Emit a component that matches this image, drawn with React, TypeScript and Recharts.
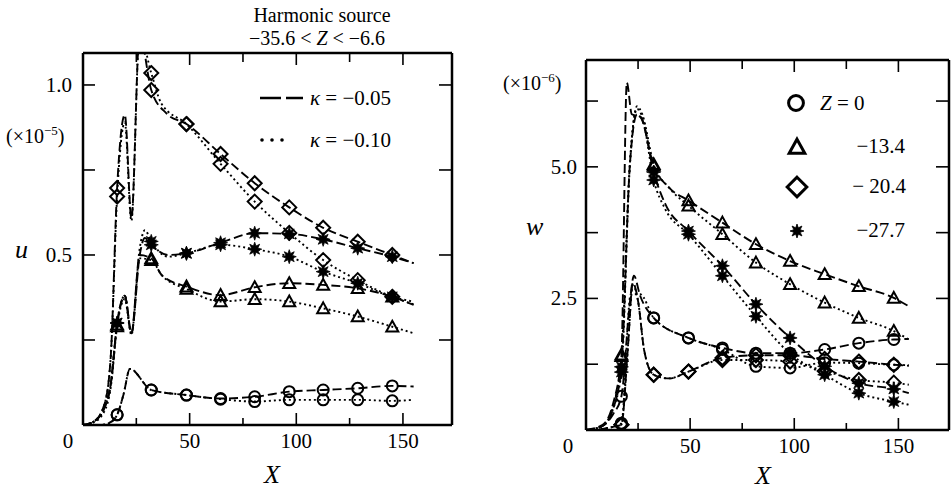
import React from 'react';
import { ComposedChart, Line, XAxis, YAxis } from 'recharts';

type P = [number, number];

// ---------- Left panel: u (x10^-5) ----------
const uMarkX = [16, 32, 48.5, 64.5, 80.5, 96.7, 112.6, 128.8, 145];
const uCircDash: P[] = [[0, 0], [8, 0], [12, 0.005], [16, 0.03], [19, 0.09], [22, 0.165], [32, 0.103], [48.5, 0.088], [64.5, 0.078], [80.5, 0.083], [96.7, 0.098], [112.6, 0.103], [128.8, 0.108], [145, 0.115], [155, 0.113]];
const uCircDot: P[] = [[0, 0], [8, 0], [12, 0.005], [16, 0.03], [19, 0.09], [22, 0.165], [32, 0.103], [48.5, 0.088], [64.5, 0.076], [80.5, 0.069], [96.7, 0.074], [112.6, 0.074], [128.8, 0.074], [145, 0.071], [155, 0.074]];
const uTriDash: P[] = [[0, 0], [5, 0.01], [10, 0.05], [13, 0.12], [16, 0.295], [19.6, 0.38], [22.7, 0.27], [26.6, 0.5], [32, 0.49], [37, 0.44], [48.5, 0.407], [64.5, 0.382], [80.5, 0.405], [96.7, 0.417], [112.6, 0.412], [128.8, 0.402], [145, 0.377], [155, 0.353]];
const uTriDot: P[] = [[0, 0], [5, 0.008], [10, 0.04], [13, 0.11], [16, 0.29], [19.6, 0.37], [22.7, 0.265], [26.6, 0.49], [32, 0.485], [37, 0.44], [48.5, 0.4], [64.5, 0.363], [80.5, 0.37], [96.7, 0.363], [112.6, 0.343], [128.8, 0.319], [145, 0.289], [155, 0.27]];
const uStarDash: P[] = [[0, 0], [5, 0.01], [10, 0.05], [13, 0.12], [16, 0.3], [19.6, 0.38], [22.7, 0.27], [26.6, 0.5], [29, 0.55], [32, 0.53], [40, 0.5], [48.5, 0.505], [64.5, 0.536], [80.5, 0.564], [96.7, 0.562], [112.6, 0.546], [128.8, 0.52], [145, 0.495], [155, 0.476]];
const uStarDot: P[] = [[0, 0], [5, 0.01], [10, 0.05], [13, 0.12], [16, 0.3], [19.6, 0.38], [22.7, 0.27], [26.6, 0.52], [29, 0.573], [32, 0.54], [40, 0.495], [48.5, 0.505], [64.5, 0.53], [80.5, 0.517], [96.7, 0.495], [112.6, 0.451], [128.8, 0.417], [145, 0.377], [155, 0.363]];
const uDiaDash: P[] = [[0, 0], [5, 0.01], [10, 0.06], [13, 0.2], [16, 0.697], [19.6, 0.912], [22.7, 0.608], [26.5, 1.15], [32, 0.985], [39, 0.917], [48.5, 0.885], [64.5, 0.797], [80.5, 0.711], [96.7, 0.64], [112.6, 0.58], [128.8, 0.539], [145, 0.5], [155, 0.476]];
const uDiaDot: P[] = [[0, 0], [5, 0.01], [10, 0.06], [13, 0.2], [16, 0.672], [19.6, 0.89], [22.7, 0.6], [26.5, 1.15], [32, 1.035], [36.7, 0.946], [48.5, 0.885], [64.5, 0.768], [80.5, 0.657], [96.7, 0.565], [112.6, 0.485], [128.8, 0.426], [145, 0.377], [155, 0.355]];

// ---------- Right panel: w (x10^-6) ----------
const wMarkX = [17, 32.5, 49.2, 65.5, 81.6, 98, 114.6, 131, 147.8];
const wCircDash: P[] = [[0, 0], [8, 0.08], [13, 0.3], [17, 0.64], [21, 2.4], [23, 2.93], [26, 2.55], [32.5, 2.13], [49.2, 1.75], [65.5, 1.56], [81.6, 1.46], [98, 1.46], [114.6, 1.53], [131, 1.65], [147.8, 1.72], [155, 1.73]];
const wCircDot: P[] = [[0, 0], [8, 0.02], [13, 0.06], [17, 0.13], [21.5, 2.58], [26, 2.58], [32.5, 2.13], [49.2, 1.75], [65.5, 1.53], [81.6, 1.21], [98, 1.18], [114.6, 1.28], [131, 1.27], [147.8, 1.24], [155, 1.23]];
const wTriDash: P[] = [[0, 0], [8, 0.1], [13, 0.5], [17, 1.43], [19.6, 6.6], [22, 6.0], [26, 5.95], [32.5, 5.02], [40, 4.6], [49.2, 4.36], [65.5, 3.94], [81.6, 3.53], [98, 3.21], [114.6, 2.96], [131, 2.73], [147.8, 2.51], [155, 2.35]];
const wTriDot: P[] = [[0, 0], [8, 0.08], [13, 0.45], [17, 1.4], [21, 5.0], [24.5, 6.15], [27, 6.0], [32.5, 5.05], [40, 4.6], [49.2, 4.26], [65.5, 3.72], [81.6, 3.18], [98, 2.77], [114.6, 2.42], [131, 2.13], [147.8, 1.88], [155, 1.72]];
const wDiaDash: P[] = [[0, 0], [8, 0.02], [13, 0.06], [17, 0.1], [20, 1.5], [22.5, 2.8], [25, 2.45], [28, 1.5], [32.5, 1.05], [40, 0.98], [49.2, 1.11], [65.5, 1.37], [81.6, 1.42], [98, 1.42], [114.6, 1.35], [131, 1.3], [147.8, 1.24], [155, 1.22]];
const wDiaDot: P[] = [[0, 0], [8, 0.02], [13, 0.06], [17, 0.1], [20, 1.5], [22.5, 2.75], [25, 2.45], [28, 1.5], [32.5, 1.05], [40, 0.98], [49.2, 1.11], [65.5, 1.33], [81.6, 1.33], [98, 1.3], [114.6, 1.12], [131, 0.95], [147.8, 0.9], [155, 0.86]];
const wStarDash: P[] = [[0, 0], [8, 0.08], [13, 0.4], [17, 1.2], [21, 5.0], [24.5, 6.0], [27, 5.9], [32.5, 4.9], [38, 4.3], [49.2, 3.78], [65.5, 3.12], [81.6, 2.39], [98, 1.75], [114.6, 1.21], [131, 0.89], [147.8, 0.78], [155, 0.7]];
const wStarDot: P[] = [[0, 0], [8, 0.08], [13, 0.4], [17, 1.1], [21, 5.0], [24.5, 6.1], [27, 5.95], [32.5, 4.75], [38, 4.2], [49.2, 3.72], [65.5, 2.93], [81.6, 2.16], [98, 1.45], [114.6, 1.05], [131, 0.7], [147.8, 0.54], [155, 0.48]];

const xTicks = [0, 25, 50, 75, 100, 125, 150];
const uTicks = [0, 0.25, 0.5, 0.75, 1.0];
const wTicks = [0, 1.25, 2.5, 3.75, 5.0, 6.25];
const uLabelTicks = [0.5, 1.0];
const wLabelTicks = [2.5, 5.0];

const SERIF = '"Liberation Serif", "DejaVu Serif", serif';
const K = '#000';

type Kind = 'circle' | 'tri' | 'dia' | 'star';

const Marker = ({ kind, cx, cy, s = 1, sw = 2 }: { kind: Kind; cx: number; cy: number; s?: number; sw?: number }) => {
  if (kind === 'circle') return <circle cx={cx} cy={cy} r={5.5 * s} fill="none" stroke={K} strokeWidth={sw} />;
  if (kind === 'tri') {
    const pts = `${cx},${cy - 6 * s} ${cx + 6 * s},${cy + 4.8 * s} ${cx - 6 * s},${cy + 4.8 * s}`;
    return <polygon points={pts} fill="none" stroke={K} strokeWidth={sw} strokeLinejoin="miter" />;
  }
  if (kind === 'dia') {
    const pts = `${cx},${cy - 7 * s} ${cx + 7 * s},${cy} ${cx},${cy + 7 * s} ${cx - 7 * s},${cy}`;
    return <polygon points={pts} fill="none" stroke={K} strokeWidth={sw} />;
  }
  const pts: string[] = [];
  for (let i = 0; i < 16; i++) {
    const r = (i % 2 === 0 ? 7 : 3.4) * s;
    const a = (Math.PI * i) / 8 - Math.PI / 2;
    pts.push(`${cx + r * Math.cos(a)},${cy + r * Math.sin(a)}`);
  }
  return <polygon points={pts.join(' ')} fill={K} stroke={K} strokeWidth={0.8} />;
};

const rows = (pts: P[]) => pts.map(([x, y]) => ({ x, y }));

const makeDot = (kind: Kind, marks: number[]) => (props: any) => {
  const { cx, cy, payload, index } = props;
  if (!payload || !marks.includes(payload.x) || cx == null || cy == null) return <g key={`d${index}`} />;
  return <g key={`d${index}`}><Marker kind={kind} cx={cx} cy={cy} /></g>;
};

const DASH = '9 4';
const DOT = '2 3';

const mkTicks = (zeroDx: number) => ({
  bottom: (p: any) => {
    const { x, y, payload } = p;
    const v = payload.value;
    const major = v % 50 === 0;
    return (
      <g>
        {v > 0 && <line x1={x} x2={x} y1={y} y2={y - (major ? 12 : 7)} stroke={K} strokeWidth={1.6} />}
        {v > 0 && major && (
          <text x={x} y={y + 23} textAnchor="middle" fontFamily={SERIF} fontSize={21} fill={K}>{v}</text>
        )}
        {v === 0 && (
          <text x={x + zeroDx} y={y + 23} textAnchor="middle" fontFamily={SERIF} fontSize={21} fill={K}>0</text>
        )}
      </g>
    );
  },
  top: (p: any) => {
    const { x, y, payload } = p;
    const v = payload.value;
    if (v <= 0) return <g />;
    const major = v % 50 === 0;
    return <line x1={x} x2={x} y1={y} y2={y + (major ? 12 : 9)} stroke={K} strokeWidth={1.6} />;
  },
});

const leftTick = (labels: number[], dx: number) => (p: any) => {
  const { x, y, payload } = p;
  const v = payload.value;
  if (v <= 0) return <g />;
  return (
    <g>
      <line x1={x} x2={x + 12} y1={y} y2={y} stroke={K} strokeWidth={1.6} />
      {labels.includes(v) && (
        <text x={x - dx} y={y + 7} textAnchor="end" fontFamily={SERIF} fontSize={21} fill={K}>{v.toFixed(1)}</text>
      )}
    </g>
  );
};

const rightTick = (p: any) => {
  const { x, y, payload } = p;
  const v = payload.value;
  if (v <= 0) return <g />;
  return <line x1={x} x2={x - 13} y1={y} y2={y} stroke={K} strokeWidth={1.6} />;
};

const axisLine = { stroke: K, strokeWidth: 2.5 };

type SeriesDef = { data: P[]; kind: Kind; dash: string };

const Panel = ({
  width, height, plotLeft, plotRight, plotTop, plotBottom, xMax, yMax, yTicks, yLabels, marks, series, zeroDx, yLabelDx,
}: {
  width: number; height: number; plotLeft: number; plotRight: number; plotTop: number; plotBottom: number;
  xMax: number; yMax: number; yTicks: number[]; yLabels: number[]; marks: number[]; series: SeriesDef[]; zeroDx: number; yLabelDx: number;
}) => {
  const t = mkTicks(zeroDx);
  return (
    <ComposedChart width={width} height={height} margin={{ top: 0, right: 0, bottom: 0, left: 0 }}>
      <XAxis xAxisId="b" orientation="bottom" type="number" dataKey="x" domain={[0, xMax]} ticks={xTicks} interval={0}
        height={height - plotBottom} tickSize={0} tickMargin={0} tickLine={false} axisLine={axisLine} tick={t.bottom} allowDataOverflow />
      <XAxis xAxisId="t" orientation="top" type="number" dataKey="x" domain={[0, xMax]} ticks={xTicks} interval={0}
        height={plotTop} tickSize={0} tickMargin={0} tickLine={false} axisLine={axisLine} tick={t.top} allowDataOverflow />
      <YAxis yAxisId="l" orientation="left" type="number" domain={[0, yMax]} ticks={yTicks} interval={0}
        width={plotLeft} tickSize={0} tickMargin={0} tickLine={false} axisLine={axisLine} tick={leftTick(yLabels, yLabelDx)} allowDataOverflow />
      <YAxis yAxisId="r" orientation="right" type="number" domain={[0, yMax]} ticks={yTicks} interval={0}
        width={width - plotRight} tickSize={0} tickMargin={0} tickLine={false} axisLine={axisLine} tick={rightTick} allowDataOverflow />
      {series.map((s, i) => (
        <Line key={i} xAxisId="b" yAxisId="l" data={rows(s.data)} dataKey="y" type="monotone" stroke={K}
          strokeWidth={1.9} strokeDasharray={s.dash} dot={makeDot(s.kind, marks)} activeDot={false}
          isAnimationActive={false} />
      ))}
    </ComposedChart>
  );
};

const leftSeries: SeriesDef[] = [
  { data: uCircDash, kind: 'circle', dash: DASH },
  { data: uCircDot, kind: 'circle', dash: DOT },
  { data: uTriDash, kind: 'tri', dash: DASH },
  { data: uTriDot, kind: 'tri', dash: DOT },
  { data: uDiaDash, kind: 'dia', dash: DASH },
  { data: uDiaDot, kind: 'dia', dash: DOT },
  { data: uStarDash, kind: 'star', dash: DASH },
  { data: uStarDot, kind: 'star', dash: DOT },
];

const rightSeries: SeriesDef[] = [
  { data: wCircDash, kind: 'circle', dash: DASH },
  { data: wCircDot, kind: 'circle', dash: DOT },
  { data: wTriDash, kind: 'tri', dash: DASH },
  { data: wTriDot, kind: 'tri', dash: DOT },
  { data: wDiaDash, kind: 'dia', dash: DASH },
  { data: wDiaDot, kind: 'dia', dash: DOT },
  { data: wStarDash, kind: 'star', dash: DASH },
  { data: wStarDot, kind: 'star', dash: DOT },
];

const Overlay = () => (
  <svg width={951} height={490} style={{ position: 'absolute', left: 0, top: 0, pointerEvents: 'none' }}>
    <g fontFamily={SERIF} fill={K}>
      {/* title */}
      <text x={322} y={22} textAnchor="middle" fontSize={20}>Harmonic source</text>
      <text x={317} y={45} textAnchor="middle" fontSize={20}>
        −35.6 &lt; <tspan fontStyle="italic">Z</tspan> &lt; −6.6
      </text>
      {/* left axis annotations */}
      <text x={6} y={143} fontSize={20}>(×10<tspan fontSize={13} dy={-8}>−5</tspan><tspan dy={8}>)</tspan></text>
      <text x={15} y={258} fontSize={26} fontStyle="italic">u</text>
      <text x={272} y={483} fontSize={26} fontStyle="italic" textAnchor="middle">X</text>
      {/* left legend */}
      <line x1={260} x2={303} y1={98} y2={98} stroke={K} strokeWidth={2.6} strokeDasharray="21 5" />
      <circle cx={262} cy={140} r={1.8} />
      <circle cx={272} cy={140} r={1.8} />
      <circle cx={282} cy={140} r={1.8} />
      <text x={310} y={105} fontSize={21}><tspan fontStyle="italic">κ</tspan> = −0.05</text>
      <text x={310} y={147} fontSize={21}><tspan fontStyle="italic">κ</tspan> = −0.10</text>
      {/* right axis annotations */}
      <text x={503} y={90} fontSize={20}>(×10<tspan fontSize={13} dy={-8}>−6</tspan><tspan dy={8}>)</tspan></text>
      <text x={526} y={235} fontSize={26} fontStyle="italic">w</text>
      <text x={763} y={484} fontSize={26} fontStyle="italic" textAnchor="middle">X</text>
      {/* right legend */}
      <Marker kind="circle" cx={796} cy={103} s={1.35} sw={3} />
      <text x={820} y={110} fontSize={21}><tspan fontStyle="italic">Z</tspan> = 0</text>
      <Marker kind="tri" cx={797} cy={147} s={1.3} sw={3} />
      <text x={905} y={153} fontSize={21} textAnchor="end">−13.4</text>
      <Marker kind="dia" cx={797} cy={187} s={1.4} sw={3} />
      <text x={906} y={193} fontSize={21} textAnchor="end">− 20.4</text>
      <Marker kind="star" cx={797} cy={231} s={1} />
      <text x={905} y={237} fontSize={21} textAnchor="end">−27.7</text>
    </g>
  </svg>
);

export default function App() {
  return (
    <div style={{ position: 'absolute', left: 0, top: 0, width: 951, height: 490, background: '#fff', overflow: 'hidden' }}>
      <div style={{ position: 'absolute', left: 0, top: 0 }}>
        <Panel width={480} height={490} plotLeft={83} plotRight={452} plotTop={53} plotBottom={425}
          xMax={173} yMax={1.094} yTicks={uTicks} yLabels={uLabelTicks} marks={uMarkX} series={leftSeries} zeroDx={-15} yLabelDx={11} />
      </div>
      <div style={{ position: 'absolute', left: 480, top: 0 }}>
        <Panel width={471} height={490} plotLeft={106} plotRight={469} plotTop={60} plotBottom={430}
          xMax={174.3} yMax={7.03} yTicks={wTicks} yLabels={wLabelTicks} marks={wMarkX} series={rightSeries} zeroDx={-18} yLabelDx={9} />
      </div>
      <Overlay />
    </div>
  );
}
